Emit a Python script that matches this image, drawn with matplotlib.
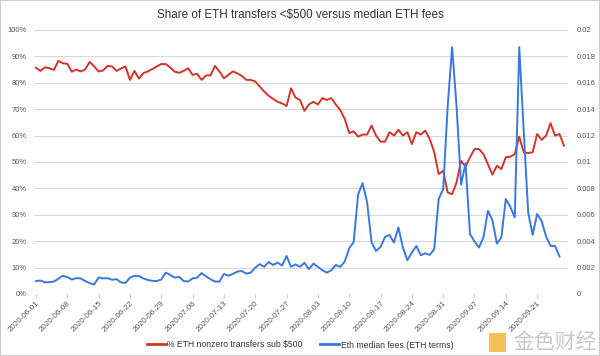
import matplotlib
matplotlib.use('Agg')
import matplotlib.pyplot as plt
import matplotlib.dates as mdates
from matplotlib.ticker import FixedLocator, FuncFormatter
from matplotlib.lines import Line2D
from matplotlib.patches import Rectangle
import pandas as pd

# share of nonzero ETH transfers under $500 (percent), one value per day from 2020-06-01
share_pct = [85.7, 84.5, 85.9, 85.5, 84.9, 88.3, 87.4, 87.2, 84.2, 85.0,
             84.3, 85.1, 87.9, 86.2, 84.3, 84.7, 86.4, 86.2, 84.5, 85.4,
             86.2, 81.1, 84.5, 81.6, 83.7, 84.3, 85.2, 86.2, 87.1, 87.1,
             85.8, 84.2, 83.8, 84.5, 85.5, 83.0, 83.4, 81.1, 82.8, 82.8,
             86.4, 84.3, 81.7, 83.0, 84.3, 83.6, 82.6, 81.1, 81.1, 80.5,
             78.6, 76.7, 75.1, 73.9, 72.8, 72.2, 71.2, 77.9, 74.4, 73.5,
             69.4, 71.8, 72.8, 71.8, 74.2, 73.5, 74.2, 71.8, 69.7, 66.3,
             61.0, 61.6, 59.6, 60.4, 60.4, 63.8, 60.0, 57.7, 57.7, 61.3,
             60.0, 62.2, 60.0, 61.3, 56.8, 61.3, 60.4, 61.9, 58.7, 53.7,
             45.4, 46.7, 38.5, 37.8, 42.3, 50.5, 48.2, 51.8, 54.9, 54.9,
             53.0, 49.2, 45.2, 48.6, 47.3, 51.8, 52.0, 53.0, 59.6, 53.7,
             53.4, 53.7, 60.6, 58.4, 60.0, 64.7, 60.0, 60.6, 56.2]

# median fee in ETH, one value per day from 2020-06-01
median_fee = [0.00098, 0.00102, 0.00088, 0.00090, 0.00094, 0.00116, 0.00138, 0.00128, 0.00110, 0.00120,
              0.00118, 0.00098, 0.00082, 0.00072, 0.00126, 0.00118, 0.00120, 0.00108, 0.00112, 0.00088,
              0.00084, 0.00124, 0.00138, 0.00136, 0.00118, 0.00106, 0.00100, 0.00098, 0.00110, 0.00162,
              0.00144, 0.00124, 0.00130, 0.00098, 0.00094, 0.00118, 0.00124, 0.00158, 0.00134, 0.00112,
              0.00094, 0.00094, 0.00152, 0.00138, 0.00152, 0.00170, 0.00174, 0.00154, 0.00162, 0.00200,
              0.00226, 0.00206, 0.00242, 0.00220, 0.00238, 0.00216, 0.00288, 0.00206, 0.00224, 0.00206,
              0.00236, 0.00188, 0.00230, 0.00206, 0.00180, 0.00162, 0.00180, 0.00220, 0.00206, 0.00246,
              0.00346, 0.00394, 0.00756, 0.00840, 0.00694, 0.00390, 0.00326, 0.00356, 0.00432, 0.00448,
              0.00390, 0.00504, 0.00352, 0.00256, 0.00314, 0.00364, 0.00294, 0.00308, 0.00296, 0.00340,
              0.00720, 0.00794, 0.01416, 0.01870, 0.01416, 0.00828, 0.00990, 0.00454, 0.00398, 0.00352,
              0.00428, 0.00630, 0.00560, 0.00382, 0.00428, 0.00720, 0.00660, 0.00580, 0.01870, 0.01238,
              0.00618, 0.00448, 0.00606, 0.00554, 0.00436, 0.00364, 0.00364, 0.00284]

share_dates = pd.date_range('2020-06-01', periods=len(share_pct), freq='D')
fee_dates = pd.date_range('2020-06-01', periods=len(median_fee), freq='D')
tick_dates = pd.date_range('2020-06-01', '2020-09-21', freq='7D')

title = 'Share of ETH transfers <$500 versus median ETH fees'
share_label = '% ETH nonzero transfers sub $500'
fee_label = 'Eth median fees (ETH terms)'

red = '#d2352a'
blue = '#3a78e0'
grey_text = '#555555'

plt.rcParams['font.family'] = ['Liberation Sans', 'Noto Sans CJK SC', 'DejaVu Sans']

fig = plt.figure(figsize=(6, 3.56), dpi=100)
ax = fig.add_axes([34 / 600, 1 - 294 / 356, (568 - 34) / 600, (294 - 30) / 356])
ax2 = ax.twinx()

ax.plot(share_dates, [v / 100 for v in share_pct], color=red, lw=1.4, zorder=3)
ax2.plot(fee_dates, median_fee, color=blue, lw=1.4, zorder=3)

start = mdates.date2num(pd.Timestamp('2020-06-01'))
ax.set_xlim(start - 0.45, start + 118.9)
ax.set_ylim(0, 1)
ax2.set_ylim(0, 0.02)

ax.yaxis.set_major_locator(FixedLocator([i / 10 for i in range(11)]))
ax.yaxis.set_major_formatter(FuncFormatter(lambda v, p: f'{v * 100:.0f}%'))
ax2.yaxis.set_major_locator(FixedLocator([i * 0.002 for i in range(11)]))
ax2.yaxis.set_major_formatter(FuncFormatter(lambda v, p: f'{round(v, 4):g}'))

ax.grid(axis='y', color='#d9d9d9', lw=0.8)
ax.set_axisbelow(True)
for a in (ax, ax2):
    for s in a.spines.values():
        s.set_visible(False)
ax.tick_params(axis='y', length=0, pad=5, labelsize=5.5, labelcolor=grey_text)
ax2.tick_params(axis='y', length=0, pad=6.5, labelsize=5.5, labelcolor=grey_text)

ax.set_xticks(tick_dates)
ax.xaxis.set_major_formatter(mdates.DateFormatter('%Y-%m-%d'))
ax.tick_params(axis='x', length=3, color='#cccccc', pad=1, labelsize=5.8, labelcolor=grey_text)
for lbl in ax.get_xticklabels():
    lbl.set_rotation(45)
    lbl.set_ha('right')
    lbl.set_rotation_mode('anchor')

fig.text(0.5, 1 - 15 / 356, title, ha='center', va='center', fontsize=8.4, color='#333333')

handles = [Line2D([], [], color=red, lw=2), Line2D([], [], color=blue, lw=2)]
fig.legend(handles, [share_label, fee_label], loc='center', bbox_to_anchor=(0.5, 1 - 345 / 356),
           ncol=2, frameon=False, fontsize=6.2, handlelength=2.2, handletextpad=0.2,
           columnspacing=2.0, labelcolor='#333333')

# watermark
fig.patches.append(Rectangle((489 / 600, 1 - 352 / 356), 17 / 600, 19 / 356, transform=fig.transFigure,
                             facecolor='#f0b83a', edgecolor='none', alpha=0.85))
fig.text(555 / 600, 1 - 342 / 356, '金色财经', ha='center', va='center', fontsize=15,
         color='#c8c8c8', family=['Noto Sans CJK SC', 'DejaVu Sans'])

fig.patches.append(Rectangle((0, 0), 1, 1, transform=fig.transFigure, fill=False,
                             edgecolor='#cccccc', lw=1.5))

fig.savefig('out.png', dpi=100)
